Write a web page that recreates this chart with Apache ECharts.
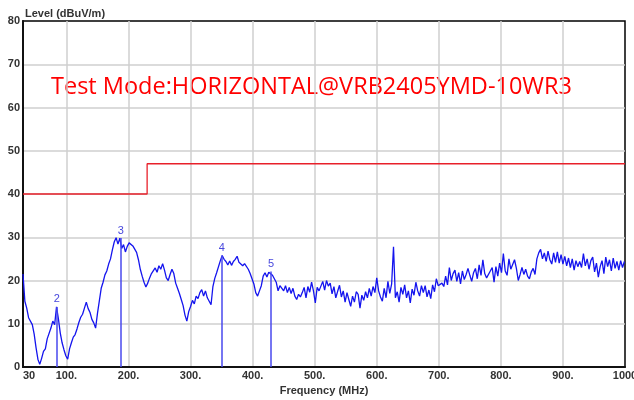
<!DOCTYPE html>
<html>
<head>
<meta charset="utf-8">
<script src="https://cdn.jsdelivr.net/npm/echarts@6/dist/echarts.min.js"></script>
<style>html,body{margin:0;padding:0;background:#fff}#c{width:634px;height:400px}</style>
</head>
<body>
<div id="c"></div>
<script>
// ---- data ----
const titleText = 'Test Mode:HORIZONTAL@VRB2405YMD-10WR3';
const yAxisName = 'Level (dBuV/m)';
const xAxisName = 'Frequency (MHz)';
const limitName = 'EN55032 QP';

const xTickValues = [30, 100, 200, 300, 400, 500, 600, 700, 800, 900, 1000];
const xTickLabels = ['30', '100.', '200.', '300.', '400.', '500.', '600.', '700.', '800.', '900.', '1000'];
const yMin = 0, yMax = 80, yStep = 10;

// sweep: 30 MHz start, 3 MHz step
const sweepStart = 30;
const sweepStep = 3;
const traceLevels = [
  21.5, 15.2, 13.6, 11.4, 11.0, 9.8, 7.6, 4.5, 1.8, 0.6,      // 30-57
  2.0, 3.6, 4.2, 6.5, 6.8, 9.0, 10.6, 9.8, 13.9, 11.2,        // 60-87
  7.9, 5.6, 4.0, 2.6, 1.8, 4.2, 5.6, 6.9, 7.5, 8.8,           // 90-117
  10.3, 11.5, 12.2, 13.6, 15.0, 13.5, 12.6, 11.0, 10.2, 9.0,  // 120-147
  12.4, 15.3, 18.2, 19.6, 21.3, 22.2, 23.8, 25.0, 27.1, 28.9, // 150-177
  29.9, 28.4, 29.8, 27.4, 28.3, 26.6, 27.9, 28.7, 28.9, 28.0, // 180-207
  27.6, 26.5, 24.8, 22.6, 21.0, 19.6, 18.5, 19.4, 20.6, 21.6, // 210-237
  21.8, 22.9, 21.9, 23.4, 22.6, 23.9, 22.4, 20.6, 20.0, 21.4, // 240-267
  22.6, 21.6, 19.4, 18.2, 17.0, 15.6, 14.2, 12.0, 10.6, 12.8, // 270-297
  14.0, 15.4, 14.6, 16.4, 15.8, 17.2, 17.9, 16.4, 17.6, 16.0, // 300-327
  16.2, 14.4, 18.6, 20.5, 21.8, 22.2, 24.6, 25.8, 24.9, 24.4, // 330-357
  23.6, 24.5, 23.5, 24.4, 24.9, 25.6, 24.2, 24.5, 23.4, 23.9, // 360-387
  23.6, 22.6, 21.6, 20.4, 19.2, 17.2, 16.4, 17.6, 18.8, 21.0, // 390-417
  21.8, 20.8, 21.9, 22.2, 21.2, 20.8, 19.6, 17.6, 18.8, 18.4, // 420-447
  17.6, 18.8, 17.2, 18.4, 17.0, 18.2, 16.4, 15.6, 16.8, 16.2, // 450-477
  17.2, 18.4, 16.0, 18.6, 17.3, 19.6, 17.6, 14.8, 18.4, 17.6, // 480-507
  18.0, 19.8, 17.8, 20.0, 18.7, 19.4, 16.9, 18.6, 16.0, 17.5, // 510-537
  18.9, 16.2, 17.6, 15.0, 17.2, 15.6, 14.0, 16.4, 15.0, 17.4, // 540-567
  16.8, 13.6, 16.6, 15.4, 17.4, 16.0, 18.2, 16.4, 18.6, 17.2, // 570-597
  20.6, 17.6, 16.2, 15.2, 18.2, 16.0, 19.8, 17.0, 19.2, 27.8, // 600-627
  16.0, 17.4, 15.0, 18.4, 16.8, 19.0, 16.0, 17.6, 14.8, 18.0, // 630-657
  16.6, 19.6, 17.6, 16.4, 18.8, 17.2, 18.8, 16.2, 17.8, 15.8, // 660-687
  19.0, 17.4, 20.4, 18.8, 19.0, 19.4, 18.6, 21.0, 19.0, 23.0, // 690-717
  20.0, 21.6, 22.4, 19.8, 21.8, 19.2, 22.2, 20.2, 21.4, 22.8, // 720-747
  21.2, 19.8, 21.8, 22.8, 20.4, 23.6, 21.2, 24.8, 21.6, 20.6, // 750-777
  20.2, 22.2, 23.0, 19.6, 23.2, 21.0, 24.0, 21.8, 26.2, 22.2, // 780-807
  21.2, 25.0, 22.6, 22.8, 24.8, 22.8, 20.0, 21.4, 23.0, 21.4, // 810-837
  22.6, 21.0, 20.4, 22.0, 22.8, 21.4, 25.0, 26.4, 27.2, 25.0, // 840-867
  26.4, 24.4, 26.8, 24.8, 23.8, 26.4, 24.2, 26.6, 24.0, 26.0, // 870-897
  23.8, 25.6, 23.4, 25.2, 23.0, 25.0, 22.4, 24.6, 23.2, 24.4, // 900-927
  23.0, 26.2, 23.4, 25.0, 22.6, 24.6, 25.4, 22.0, 24.0, 20.8, // 930-957
  23.2, 24.6, 21.6, 25.4, 23.2, 24.8, 22.2, 25.2, 22.8, 24.4, // 960-987
  22.4, 24.6, 23.0, 24.4                                      // 990-999
];

const limitFreqs = [30, 230, 230, 1000];
const limitLevels = [40, 40, 47, 47];

const markerIds = ['2', '3', '4', '5'];
const markerFreqs = [84.5, 187.4, 350.5, 429.6];
const markerLevels = [13.9, 29.8, 25.8, 22.1];

// ---- build ----
const traceData = traceLevels.map((v, i) => [sweepStart + i * sweepStep, v]);
const limitData = limitFreqs.map((f, i) => [f, limitLevels[i]]);
limitData[limitData.length - 1] = {
  value: limitData[limitData.length - 1],
  label: {
    show: true, formatter: limitName, position: 'top', align: 'right',
    distance: 3, offset: [-3, 0],
    color: '#e8202a', fontFamily: 'Liberation Sans', fontSize: 11, fontWeight: 'bold'
  }
};

const markLines = markerFreqs.map((f, i) => [
  { coord: [f, 0] },
  { coord: [f, markerLevels[i]], label: { show: true, formatter: markerIds[i] } }
]);

const chart = echarts.init(document.getElementById('c'), null, { renderer: 'canvas' });

const labelFont = { fontFamily: 'Liberation Sans', fontSize: 11, fontWeight: 'bold', color: '#333' };

// measure title to fit the original width
const cv = document.createElement('canvas').getContext('2d');
const titleFontSize = 24;
const titleFamily = '"Open Sans"';
cv.font = titleFontSize + 'px ' + titleFamily;
const titleW = cv.measureText(titleText).width;
const titleScale = 521 / titleW;

chart.setOption({
  animation: false,
  backgroundColor: '#fff',
  grid: {
    left: 23, right: 9, top: 21, bottom: 33,
    containLabel: false, outerBoundsMode: 'none',
    show: true, borderColor: '#000', borderWidth: 1.5, backgroundColor: 'transparent'
  },
  xAxis: {
    type: 'value', min: 30, max: 1000,
    axisLine: { show: true, lineStyle: { color: '#111', width: 2 } },
    axisTick: { show: false, customValues: xTickValues },
    axisLabel: Object.assign({
      customValues: xTickValues,
      formatter: (v) => xTickLabels[xTickValues.indexOf(v)],
      margin: 3, alignMinLabel: 'left', showMaxLabel: true, showMinLabel: true
    }, labelFont),
    splitLine: { show: true, showMinLine: false, showMaxLine: false, lineStyle: { color: '#cfcfcf', width: 1.5 } },
    name: xAxisName, nameLocation: 'middle', nameGap: 17,
    nameTextStyle: labelFont
  },
  yAxis: {
    type: 'value', min: yMin, max: yMax, interval: yStep,
    axisLine: { show: true, lineStyle: { color: '#111', width: 2 } },
    axisTick: { show: false },
    axisLabel: Object.assign({ margin: 3 }, labelFont),
    splitLine: { show: true, showMinLine: false, showMaxLine: false, lineStyle: { color: '#cfcfcf', width: 1.5 } },
    name: yAxisName, nameLocation: 'end', nameGap: 2, nameMoveOverlap: false,
    nameTextStyle: Object.assign({ align: 'left', verticalAlign: 'bottom', padding: [0, 0, 0, 2] }, labelFont)
  },
  graphic: [{
    type: 'text', left: 51, top: 75,
    scaleX: titleScale,
    style: { text: titleText, fill: '#ff0000', font: titleFontSize + 'px ' + titleFamily }
  }],
  series: [
    {
      type: 'line', data: limitData, showSymbol: false, symbol: 'none',
      lineStyle: { color: '#e8202a', width: 1.3 }, z: 3, silent: true
    },
    {
      type: 'line', data: traceData, showSymbol: false, symbol: 'none',
      lineStyle: { color: '#1414ee', width: 1.3 }, z: 4, clip: true,
      markLine: {
        silent: true, symbol: ['none', 'none'],
        lineStyle: { color: '#4848ee', width: 1.5, type: 'solid' },
        label: { show: true, position: 'end', distance: 2, color: '#4848dd', fontFamily: 'Liberation Sans', fontSize: 11 },
        data: markLines
      }
    }
  ]
});
</script>
</body>
</html>
